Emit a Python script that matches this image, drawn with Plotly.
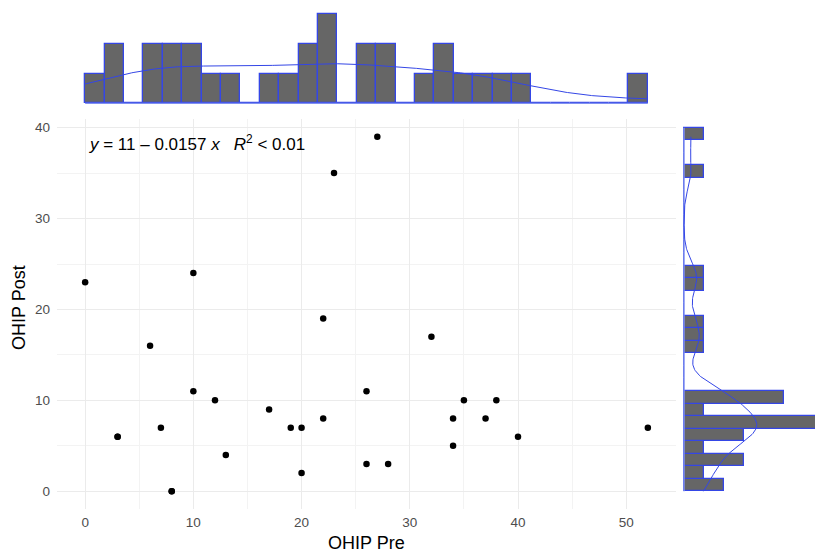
import numpy as np
import plotly.graph_objects as go

# ---------------- data ----------------
ohip_pre = [0, 3, 3, 6, 7, 8, 8, 10, 10, 12, 13, 17, 19, 20, 20, 22, 22, 23, 26, 26,
            27, 28, 32, 34, 34, 35, 37, 38, 40, 52]
ohip_post = [23, 6, 6, 16, 7, 0, 0, 24, 11, 10, 4, 9, 7, 7, 2, 19, 8, 35, 11, 3,
             39, 3, 17, 8, 5, 10, 8, 10, 6, 7]
x_ticks = [0, 10, 20, 30, 40, 50]
y_ticks = [0, 10, 20, 30, 40]
x_title = "OHIP Pre"
y_title = "OHIP Post"
N_BINS = 29
X_BIN_RANGE = (0, 52)
Y_BIN_RANGE = (0, 40)

# ---------------- styles ----------------
BLUE = "#3446E6"
BAR_FILL = "#666666"
GRID = "#EBEBEB"
GRID_MINOR = "#F3F3F3"
FONT = "Liberation Sans, Arial, sans-serif"

W, H = 815, 554


def px_x(p):
    return p / W


def px_y(p):
    return (H - p) / H


x = np.asarray(ohip_pre, float)
y = np.asarray(ohip_post, float)


def bw_nrd0(v):
    sd = v.std(ddof=1)
    q75, q25 = np.percentile(v, [75, 25])
    lo = min(sd, (q75 - q25) / 1.34)
    return 0.9 * lo * len(v) ** -0.2


def kde(v, grid):
    bw = bw_nrd0(v)
    d = (grid[:, None] - v[None, :]) / bw
    return np.exp(-0.5 * d ** 2).sum(1) / (len(v) * bw * np.sqrt(2 * np.pi))


xd, xe = np.histogram(x, bins=N_BINS, range=X_BIN_RANGE, density=True)
yd, ye = np.histogram(y, bins=N_BINS, range=Y_BIN_RANGE, density=True)
xc = (xe[:-1] + xe[1:]) / 2
yc = (ye[:-1] + ye[1:]) / 2
xw = xe[1] - xe[0]
yw = ye[1] - ye[0]

gx = np.linspace(x.min(), x.max(), 400)
gy = np.linspace(y.min(), y.max(), 400)
kx = kde(x, gx)
ky = kde(y, gy)

slope, intercept = np.polyfit(x, y, 1)
r2 = np.corrcoef(x, y)[0, 1] ** 2
sign = "\u2013" if slope < 0 else "+"
r2_txt = "< 0.01" if r2 < 0.01 else f"= {r2:.2f}"
eq_text = (f"<i>y</i> = {intercept:.3g} {sign} {abs(slope):.3g} <i>x</i>"
           f"   <i>R</i><sup>2</sup> {r2_txt}")

fig = go.Figure()

# scatter
fig.add_trace(go.Scatter(x=x, y=y, mode="markers",
                         marker=dict(color="black", size=6.5),
                         xaxis="x", yaxis="y", showlegend=False))

# top marginal
fig.add_trace(go.Scatter(x=[xe[0], xe[-1]], y=[0, 0], mode="lines",
                         line=dict(color="#8090F0", width=1.5),
                         xaxis="x2", yaxis="y2", showlegend=False))
fig.add_trace(go.Bar(x=xc, y=xd, width=xw,
                     marker=dict(color=BAR_FILL, line=dict(color=BLUE, width=1.3)),
                     xaxis="x2", yaxis="y2", showlegend=False))
fig.add_trace(go.Scatter(x=gx, y=kx, mode="lines",
                         line=dict(color=BLUE, width=1),
                         xaxis="x2", yaxis="y2", showlegend=False))

# right marginal
fig.add_trace(go.Scatter(x=[0, 0], y=[ye[0], ye[-1]], mode="lines",
                         line=dict(color="#8090F0", width=1.5),
                         xaxis="x3", yaxis="y3", showlegend=False))
fig.add_trace(go.Bar(y=yc, x=yd, width=yw, orientation="h",
                     marker=dict(color=BAR_FILL, line=dict(color=BLUE, width=1.3)),
                     xaxis="x3", yaxis="y3", showlegend=False))
fig.add_trace(go.Scatter(x=ky, y=gy, mode="lines",
                         line=dict(color=BLUE, width=1),
                         xaxis="x3", yaxis="y3", showlegend=False))

x_dom = [px_x(57), px_x(676)]
y_dom = [px_y(509), px_y(119)]
x_rng = [-2.6, 54.6]
y_rng = [-1.95, 40.95]

axis_common = dict(showline=False, zeroline=False, ticks="",
                   gridcolor=GRID, gridwidth=1,
                   tickfont=dict(family=FONT, size=13.5, color="#4D4D4D"))

cnt_top = 1 / (len(x) * xw)      # density per count
cnt_right = 1 / (len(y) * yw)

title_font = dict(family=FONT, size=18, color="black")

# right marginal spans pixel 683 .. right edge, 20.2 px per count
right_max = (W - 683) / 20.2

fig.update_layout(
    width=W, height=H,
    margin=dict(l=0, r=0, t=0, b=0),
    plot_bgcolor="white", paper_bgcolor="white",
    bargap=0,
    xaxis=dict(domain=x_dom, range=x_rng, tickvals=x_ticks, ticklabelstandoff=3,
               minor=dict(dtick=5, tick0=0, showgrid=True, gridcolor=GRID_MINOR),
               anchor="y", **axis_common),
    yaxis=dict(domain=y_dom, range=y_rng, tickvals=y_ticks, ticklabelstandoff=6,
               minor=dict(dtick=5, tick0=0, showgrid=True, gridcolor=GRID_MINOR),
               anchor="x", **axis_common),
    xaxis2=dict(domain=x_dom, range=x_rng, visible=False, anchor="y2"),
    yaxis2=dict(domain=[px_y(104), px_y(8)], range=[-0.02 * cnt_top, 3.2 * cnt_top],
                visible=False, anchor="x2"),
    xaxis3=dict(domain=[px_x(683), 1.0],
                range=[-0.05 * cnt_right, right_max * cnt_right],
                visible=False, anchor="y3"),
    yaxis3=dict(domain=y_dom, range=y_rng, visible=False, anchor="x3"),
    annotations=[
        dict(text=eq_text, xref="paper", yref="paper",
             x=px_x(87), y=px_y(143), xanchor="left", yanchor="middle",
             showarrow=False, font=dict(family=FONT, size=17, color="black")),
        dict(text=x_title, xref="paper", yref="paper",
             x=px_x(366.5), y=px_y(543), xanchor="center", yanchor="middle",
             showarrow=False, font=title_font),
        dict(text=y_title, xref="paper", yref="paper", textangle=-90,
             x=px_x(19), y=px_y(308), xanchor="center", yanchor="middle",
             showarrow=False, font=title_font),
    ],
)

fig.write_html(
    "out.html",
    config={"displayModeBar": False},
    post_script="document.body.style.margin='0';document.body.style.overflow='hidden';",
)
